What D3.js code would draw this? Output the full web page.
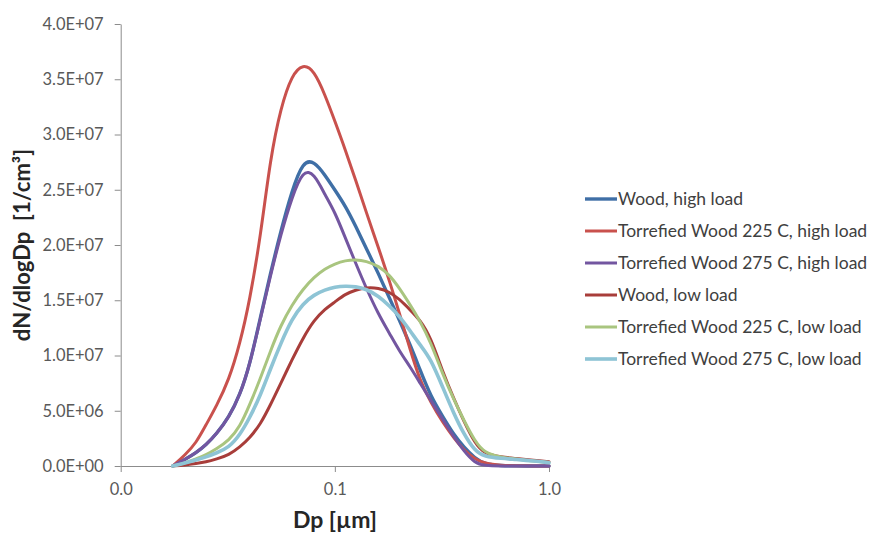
<!DOCTYPE html>
<html>
<head>
<meta charset="utf-8">
<script src="https://cdn.jsdelivr.net/npm/d3@7"></script>
<style>
  html, body { margin: 0; padding: 0; background: #fff; }
  svg { display: block; }
  text { font-family: Lato, "Open Sans", sans-serif; }
</style>
</head>
<body>
<svg id="chart" width="870" height="534"></svg>
<script>
// ---------------- data ----------------
const dp = [0.0175, 0.02, 0.0225, 0.025, 0.028, 0.032, 0.036, 0.04, 0.045, 0.05,
            0.056, 0.063, 0.071, 0.08, 0.09, 0.1, 0.112, 0.125, 0.14, 0.16,
            0.18, 0.2, 0.225, 0.25, 0.28, 0.32, 0.36, 0.4, 0.45, 0.5,
            0.6, 0.7, 0.85, 1.0];

const woodHigh = [0, 0.6e6, 1.2e6, 1.9e6, 2.9e6, 4.4e6, 6.4e6, 9.1e6, 13.5e6, 17.4e6,
                  21.3e6, 24.9e6, 27.6e6, 27.6e6, 26.33e6, 24.98e6, 23.53e6, 21.72e6, 19.73e6, 17.38e6,
                  15.2e6, 13.21e6, 10.95e6, 8.69e6, 6.33e6, 4.43e6, 2.81e6, 1.72e6, 0.72e6, 0.18e6,
                  0.03e6, 0.01e6, 0, 0];

const torr225High = [0, 1.0e6, 2.08e6, 3.71e6, 5.43e6, 7.78e6, 11.04e6, 14.93e6, 20.81e6, 27.87e6,
                     32.49e6, 35.4e6, 36.4e6, 35.8e6, 33.58e6, 31.22e6, 28.6e6, 25.88e6, 22.99e6, 19.73e6,
                     16.74e6, 13.85e6, 10.5e6, 7.69e6, 5.79e6, 3.89e6, 2.53e6, 1.45e6, 0.63e6, 0.23e6,
                     0.05e6, 0.02e6, 0.01e6, 0];

const torr275High = [0, 0.6e6, 1.2e6, 1.9e6, 2.9e6, 4.4e6, 6.4e6, 9.1e6, 13.4e6, 17.2e6,
                     21.0e6, 24.3e6, 26.8e6, 26.5e6, 24.52e6, 22.99e6, 20.63e6, 18.37e6, 16.11e6, 13.7e6,
                     12.0e6, 10.41e6, 8.96e6, 7.51e6, 5.97e6, 4.16e6, 2.62e6, 1.36e6, 0.27e6, 0.03e6,
                     0, 0, 0, 0];

const woodLow = [0, 0.09e6, 0.23e6, 0.36e6, 0.63e6, 1.0e6, 1.72e6, 2.53e6, 3.8e6, 5.52e6,
                 7.51e6, 9.59e6, 11.58e6, 13.21e6, 14.21e6, 14.84e6, 15.57e6, 15.93e6, 16.15e6, 16.11e6,
                 15.75e6, 15.11e6, 14.12e6, 13.21e6, 11.67e6, 8.42e6, 6.06e6, 4.07e6, 2.08e6, 1.09e6,
                 0.81e6, 0.68e6, 0.5e6, 0.39e6];

const torr225Low = [0, 0.27e6, 0.63e6, 1.0e6, 1.54e6, 2.31e6, 3.53e6, 5.52e6, 7.96e6, 10.41e6,
                    12.76e6, 14.57e6, 16.0e6, 17.1e6, 17.85e6, 18.3e6, 18.6e6, 18.68e6, 18.55e6, 18.1e6,
                    17.29e6, 16.11e6, 14.57e6, 13.12e6, 11.22e6, 8.24e6, 5.97e6, 4.16e6, 2.26e6, 1.18e6,
                    0.77e6, 0.63e6, 0.45e6, 0.32e6];

const torr275Low = [0, 0.27e6, 0.54e6, 0.81e6, 1.18e6, 1.67e6, 2.81e6, 4.34e6, 6.43e6, 8.78e6,
                    11.13e6, 13.3e6, 14.7e6, 15.5e6, 15.95e6, 16.2e6, 16.29e6, 16.24e6, 16.02e6, 15.38e6,
                    14.48e6, 13.57e6, 12.22e6, 10.95e6, 9.73e6, 7.06e6, 4.71e6, 2.9e6, 1.36e6, 0.86e6,
                    0.68e6, 0.59e6, 0.45e6, 0.3e6];

const seriesNames = ["Wood, high load", "Torrefied Wood 225 C, high load", "Torrefied Wood 275 C, high load",
                     "Wood, low load", "Torrefied Wood 225 C, low load", "Torrefied Wood 275 C, low load"];
const seriesValues = [woodHigh, torr225High, torr275High, woodLow, torr225Low, torr275Low];

const xTickValues = [0.01, 0.1, 1];
const xTickLabels = ["0.0", "0.1", "1.0"];
const yTickValues = [0, 5e6, 10e6, 15e6, 20e6, 25e6, 30e6, 35e6, 40e6];

// ---------------- styles ----------------
const colors = ["#3F6FA6", "#C9514D", "#7356A0", "#A83D3A", "#A9C57F", "#8EC4D5"];
const widths = [3.4, 3, 3, 3, 3, 3.6];

// ---------------- drawing ----------------
const svg = d3.select("#chart");
const x = d3.scaleLog().domain([0.01, 1]).range([120.7, 549]);
const y = d3.scaleLinear().domain([0, 4e7]).range([466, 24]);

function sciLabel(v) {
  if (v === 0) return "0.0E+00";
  const e = Math.floor(Math.log10(v));
  const m = v / Math.pow(10, e);
  return m.toFixed(1) + "E+" + String(e).padStart(2, "0");
}

const axisColor = "#8C8C8C";
const labelColor = "#595959";

// y axis
const yAxis = svg.append("g").attr("transform", "translate(120.7,0)")
  .call(d3.axisLeft(y).tickValues(yTickValues).tickFormat(sciLabel).tickSize(6).tickSizeOuter(0).tickPadding(11));
yAxis.select(".domain").attr("stroke", axisColor);
yAxis.selectAll(".tick line").attr("stroke", axisColor);
yAxis.selectAll(".tick text").attr("fill", labelColor).style("font-size", "16.5px").style("font-family", "Lato, sans-serif");

// x axis
const xAxis = svg.append("g").attr("transform", "translate(0,466)")
  .call(d3.axisBottom(x).tickValues(xTickValues).tickFormat((d, i) => xTickLabels[i]).tickSize(6).tickSizeOuter(0).tickPadding(11));
xAxis.select(".domain").attr("stroke", axisColor);
xAxis.selectAll(".tick line").attr("stroke", axisColor);
xAxis.selectAll(".tick text").attr("fill", labelColor).style("font-size", "16.5px").style("font-family", "Lato, sans-serif");

// axis titles
svg.append("text")
  .attr("transform", "translate(30,245) rotate(-90)")
  .attr("text-anchor", "middle")
  .attr("fill", "#262626")
  .style("font-size", "22px").style("font-weight", "bold")
  .style("white-space", "pre")
  .text("dN/dlogDp  [1/cm³]");

svg.append("text")
  .attr("x", 335).attr("y", 528)
  .attr("text-anchor", "middle")
  .attr("fill", "#262626")
  .style("font-size", "23px").style("font-weight", "bold")
  .text("Dp [µm]");

// lines
const line = d3.line()
  .x((d, i) => x(dp[i]))
  .y(d => y(d))
  .curve(d3.curveBasis);

const plot = svg.append("g");
seriesValues.forEach((vals, k) => {
  plot.append("path")
    .datum(vals)
    .attr("fill", "none")
    .attr("stroke", colors[k])
    .attr("stroke-width", widths[k])
    .attr("stroke-linejoin", "round")
    .attr("stroke-linecap", "round")
    .attr("d", line);
});

// legend
const legend = svg.append("g").attr("transform", "translate(585,199)");
seriesNames.forEach((name, k) => {
  const g = legend.append("g").attr("transform", `translate(0,${k * 32})`);
  g.append("line").attr("x1", 0).attr("x2", 32).attr("y1", 0).attr("y2", 0)
    .attr("stroke", colors[k]).attr("stroke-width", widths[k]);
  g.append("text").attr("x", 33).attr("y", 0).attr("dy", "0.35em")
    .attr("fill", "#404040")
    .style("font-size", "17.5px")
    .text(name);
});
</script>
</body>
</html>
